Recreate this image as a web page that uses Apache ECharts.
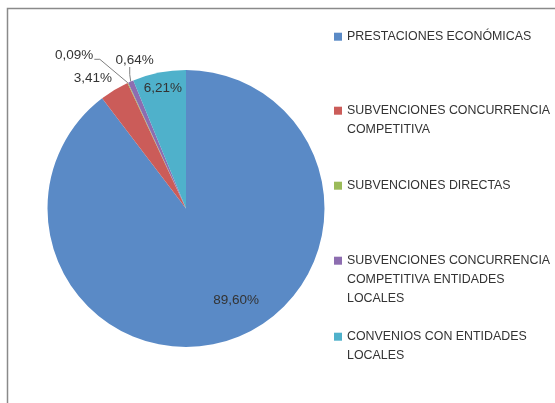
<!DOCTYPE html>
<html lang="es">
<head>
    <meta charset="UTF-8">
    <title>Distribución</title>
    <script src="https://cdn.jsdelivr.net/npm/echarts@6/dist/echarts.min.js"></script>
    <style>
        html, body {margin: 0; padding: 0; background: #fff;}
        #chart {width: 555px; height: 403px;}
    </style>
</head>
<body>
<div id="chart"></div>
<script type="text/javascript">
    // datos
    var categorias = [
        'PRESTACIONES ECONÓMICAS',
        'SUBVENCIONES CONCURRENCIA COMPETITIVA',
        'SUBVENCIONES DIRECTAS',
        'SUBVENCIONES CONCURRENCIA COMPETITIVA ENTIDADES LOCALES',
        'CONVENIOS CON ENTIDADES LOCALES'
    ];
    var porcentajes = [89.60, 3.41, 0.09, 0.64, 6.21];
    // legend text as it wraps in the picture
    var leyendas = [
        'PRESTACIONES ECONÓMICAS',
        'SUBVENCIONES CONCURRENCIA\nCOMPETITIVA',
        'SUBVENCIONES DIRECTAS',
        'SUBVENCIONES CONCURRENCIA\nCOMPETITIVA ENTIDADES\nLOCALES',
        'CONVENIOS CON ENTIDADES\nLOCALES'
    ];

    var colores = ['#5A8AC6', '#CB5C59', '#9BBB59', '#8D6DB0', '#4FB1CB'];
    var LH = 19;
    var primeraLinea = [36.7, 110.7, 185.7, 260.7, 336.7];

    var dom = document.getElementById("chart");
    var myChart = echarts.init(dom);

    var legends = [];
    for (var i = 0; i < categorias.length; i++) {
        var n = leyendas[i].split('\n').length;
        // empty lines in front so the icon sits on the first line
        var txt = new Array(n).join('\n') + leyendas[i];
        legends.push({
            show: true,
            orient: 'vertical',
            left: 334,
            top: primeraLinea[i] - (2 * n - 1) * LH / 2,
            padding: 0,
            itemWidth: 8,
            itemHeight: 8,
            itemGap: 0,
            icon: 'rect',
            selectedMode: false,
            data: [categorias[i]],
            formatter: (function (t) {
                return function () { return t; };
            })(txt),
            textStyle: {
                fontFamily: 'Liberation Sans',
                fontSize: 12.4,
                color: '#333333',
                lineHeight: LH
            }
        });
    }

    var datos = [];
    for (var j = 0; j < categorias.length; j++) {
        datos.push({name: categorias[j], value: porcentajes[j]});
    }
    // inside labels for the big slices
    datos[0].label = {position: 'inside'};
    datos[4].label = {position: 'inside'};
    datos[1].labelLine = {lineStyle: {opacity: 0}};

    var option = {
        animation: false,
        color: colores,
        legend: legends,
        graphic: [{
            type: 'rect',
            shape: {x: 7.5, y: 8.5, width: 700, height: 600},
            style: {fill: 'none', stroke: '#8a8a8a', lineWidth: 1.5},
            silent: true
        }],
        series: [{
            type: 'pie',
            center: [186, 208.5],
            radius: 138.5,
            startAngle: 90,
            clockwise: true,
            avoidLabelOverlap: false,
            label: {
                show: true,
                position: 'outside',
                fontFamily: 'Liberation Sans',
                fontSize: 13.5,
                color: '#333333',
                formatter: function (p) {
                    return p.value.toFixed(2).replace('.', ',') + '%';
                }
            },
            labelLine: {
                show: true,
                length: 10,
                length2: 5,
                lineStyle: {color: '#7f7f7f', width: 1}
            },
            labelLayout: function (p) {
                var idx = p.dataIndex;
                if (idx === 0) return {dx: 27, dy: 23};
                if (idx === 4) return {dx: -9, dy: -49};
                var e = p.labelLinePoints[0];
                if (idx === 1) {
                    return {x: e[0] - 2.4, y: e[1] - 12, align: 'right', verticalAlign: 'middle',
                        labelLinePoints: [e, e, e]};
                }
                if (idx === 2) {
                    return {x: e[0] - 34.5, y: e[1] - 28, align: 'right', verticalAlign: 'middle',
                        labelLinePoints: [e, [e[0] - 28, e[1] - 23.5], [e[0] - 33.5, e[1] - 23.5]]};
                }
                if (idx === 3) {
                    return {x: e[0] + 4, y: e[1] - 21.5, align: 'center', verticalAlign: 'middle',
                        labelLinePoints: [e, [e[0] - 1, e[1] - 7], [e[0] - 1, e[1] - 14.5]]};
                }
            },
            itemStyle: {borderWidth: 0},
            emphasis: {disabled: true},
            data: datos
        }]
    };

    myChart.setOption(option);
</script>
</body>
</html>
